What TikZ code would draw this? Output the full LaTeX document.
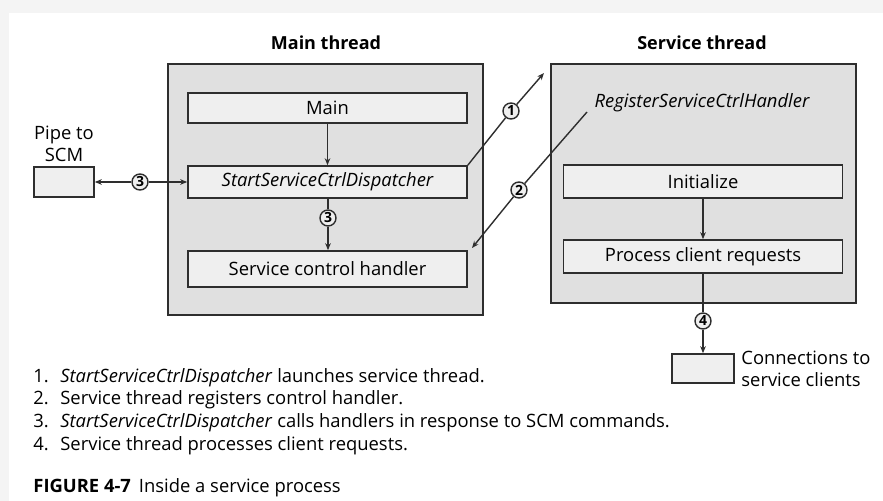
\documentclass[tikz,border=0pt]{standalone}
\usepackage{fontspec}
\setmainfont{Open Sans}
\usetikzlibrary{arrows.meta, positioning}
\definecolor{ThreadGrey}{HTML}{E0E0E0}
\definecolor{BoxGrey}{HTML}{EFEFEF}
\definecolor{EdgeGrey}{HTML}{2E2E2E}
\definecolor{PageGrey}{HTML}{F4F4F4}

\begin{document}
\begin{tikzpicture}[
  x=0.5pt, y=-0.5pt,
  thread/.style={rectangle, fill=ThreadGrey, draw=EdgeGrey, line width=0.8pt,
    minimum width=157.5pt, inner sep=0pt},
  stepbox/.style={rectangle, fill=BoxGrey, draw=EdgeGrey, line width=0.8pt,
    minimum width=139.5pt, font=\fontsize{9.2}{11}\selectfont, inner sep=0pt},
  smallbox/.style={rectangle, fill=BoxGrey, draw=EdgeGrey, line width=0.8pt,
    minimum width=30pt, minimum height=15pt, inner sep=0pt},
  title/.style={font=\fontsize{9}{11}\selectfont\bfseries},
  label/.style={font=\fontsize{9.2}{11}\selectfont, align=center, inner sep=0pt},
  num/.style={circle, fill=BoxGrey, draw=EdgeGrey, line width=0.7pt,
    minimum size=8pt, inner sep=0pt, font=\fontsize{7}{7}\selectfont\bfseries},
  line/.style={-{Stealth[length=3.5pt,width=2.8pt]}, line width=0.7pt, color=EdgeGrey},
  plain/.style={line width=0.7pt, color=EdgeGrey}
]
% page frame
\fill[PageGrey] (0,0) rectangle (883,501);
\fill[white] (9,13) rectangle (883,501);
\useasboundingbox (0,0) rectangle (883,501);

% main thread
\node[title] (mainttl) at (326,43) {Main thread};
\node[thread, minimum height=125.5pt] (mainthr) at (325.5,189.5) {};
\node[stepbox, minimum height=15pt] (mainbx) at (327.5,108) {Main};
\node[stepbox, minimum height=16pt] (dispbx) at (327.5,182) {\itshape StartServiceCtrlDispatcher};
\node[stepbox, minimum height=18pt] (ctrlbx) at (327.5,269) {Service control handler};

% service thread
\node[title] (servttl) at (702,43) {Service thread};
\node[thread, minimum width=152.5pt, minimum height=119.5pt] (servthr) at (703.5,183.5) {};
\node[label, font=\fontsize{9.2}{11}\selectfont\itshape] (regtxt) at (702,103) {RegisterServiceCtrlHandler};
\node[stepbox, minimum height=16.5pt] (initbx) at (703,181.5) {Initialize};
\node[stepbox, minimum height=16.5pt] (procbx) at (703,256.5) {Process client requests};

% pipe and client connections
\node[smallbox] (pipebx) at (64,182) {};
\node[label] (pipetxt) at (64,144) {Pipe to\\SCM};
\node[smallbox, minimum width=31pt, minimum height=14.5pt] (connbx) at (703,368.5) {};
\node[label, anchor=west, align=left] (conntxt) at (741,368.5) {Connections to\\service clients};

% numbered steps
\node[num] (c3a) at (140,182) {3};
\node[num] (c3b) at (328,218) {3};
\node[num] (c1) at (511,111) {1};
\node[num] (c2) at (519,190) {2};
\node[num] (c4) at (703,321) {4};
\coordinate (tip1) at (544,73);
\coordinate (from2) at (587,112);
\coordinate (tip2) at (472,248);

\draw[line] (mainbx) -- (dispbx);
\draw[line] (c3a) -- (pipebx);
\draw[line] (c3a) -- (dispbx);
\draw[plain] (dispbx.south -| c3b) -- (c3b);
\draw[line] (c3b) -- (ctrlbx.north -| c3b);
\draw[plain] (dispbx.north east) -- (c1);
\draw[line] (c1) -- (tip1);
\draw[plain] (from2) -- (c2);
\draw[line] (c2) -- (tip2);
\draw[line] (initbx) -- (procbx);
\draw[plain] (procbx) -- (c4);
\draw[line] (c4) -- (connbx);

% legend
\node[anchor=north west, align=left, inner sep=0pt,
  font=\fontsize{9.2}{11.3}\selectfont] (legend) at (33,368) {%
  \makebox[13.5pt][l]{1.}\textit{StartServiceCtrlDispatcher} launches service thread.\\
  \makebox[13.5pt][l]{2.}Service thread registers control handler.\\
  \makebox[13.5pt][l]{3.}\textit{StartServiceCtrlDispatcher} calls handlers in response to SCM commands.\\
  \makebox[13.5pt][l]{4.}Service thread processes client requests.};
\node[anchor=west, inner sep=0pt, font=\fontsize{9.2}{11}\selectfont] (caption) at (33,488)
  {\textbf{FIGURE 4-7}\hspace{4pt}Inside a service process};
\end{tikzpicture}
\end{document}
